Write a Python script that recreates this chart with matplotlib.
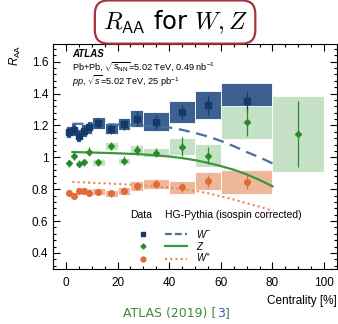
import numpy as np
import matplotlib
matplotlib.use("Agg")
import matplotlib.pyplot as plt
from matplotlib.lines import Line2D
from matplotlib.legend_handler import HandlerTuple
from matplotlib.ticker import MultipleLocator

plt.rcParams["font.family"] = ["Liberation Sans", "DejaVu Sans"]
plt.rcParams["mathtext.fontset"] = "custom"
plt.rcParams["mathtext.rm"] = "Liberation Sans"
plt.rcParams["mathtext.it"] = "Liberation Sans:italic"
plt.rcParams["mathtext.bf"] = "Liberation Sans:bold"

# centrality bins [%]
bin_lo = [0, 2, 4, 6, 8, 10, 15, 20, 25, 30, 40, 50, 60]
bin_hi = [2, 4, 6, 8, 10, 15, 20, 25, 30, 40, 50, 60, 80]
z_lo = bin_lo + [80]
z_hi = bin_hi + [100]

# W- data
wm_val = [1.158, 1.173, 1.135, 1.166, 1.187, 1.215, 1.179, 1.208, 1.242, 1.223, 1.284, 1.330, 1.352]
wm_stat = [0.028, 0.028, 0.030, 0.028, 0.030, 0.030, 0.030, 0.035, 0.047, 0.044, 0.047, 0.063, 0.065]
wm_sys = [0.040, 0.040, 0.040, 0.040, 0.040, 0.040, 0.035, 0.040, 0.055, 0.060, 0.066, 0.088, 0.115]

# Z data
z_val = [0.962, 1.008, 0.958, 0.968, 1.036, 0.968, 1.072, 0.977, 1.046, 1.029, 1.067, 1.011, 1.219, 1.146]
z_stat = [0.020, 0.022, 0.022, 0.022, 0.027, 0.020, 0.026, 0.028, 0.030, 0.030, 0.058, 0.056, 0.086, 0.205]
z_sys = [0.0, 0.0, 0.0, 0.0, 0.0, 0.020, 0.025, 0.020, 0.030, 0.030, 0.053, 0.075, 0.105, 0.238]

# W+ data
wp_val = [0.779, 0.758, 0.790, 0.790, 0.779, 0.783, 0.773, 0.790, 0.821, 0.832, 0.811, 0.851, 0.846]
wp_stat = [0.018, 0.018, 0.018, 0.018, 0.020, 0.018, 0.020, 0.022, 0.025, 0.025, 0.030, 0.040, 0.045]
wp_sys = [0.022, 0.022, 0.022, 0.022, 0.022, 0.022, 0.025, 0.025, 0.030, 0.030, 0.040, 0.057, 0.075]

# HG-Pythia curves
th_x = [2.5, 10, 20, 30, 40, 45, 50, 55, 60, 65, 70, 75, 80]
th_wm = [1.210, 1.210, 1.205, 1.200, 1.187, 1.172, 1.153, 1.130, 1.103, 1.070, 1.033, 1.000, 0.962]
th_z = [1.033, 1.030, 1.025, 1.018, 1.005, 0.995, 0.982, 0.965, 0.945, 0.922, 0.893, 0.858, 0.818]
th_wp = [0.845, 0.840, 0.833, 0.824, 0.810, 0.800, 0.790, 0.775, 0.755, 0.735, 0.712, 0.690, 0.665]

c_wm_box, c_wm = "#3d6090", "#143a6c"
c_z_box, c_z = "#c6e2c6", "#2a8a2a"
c_wp_box, c_wp = "#eeb79a", "#e06a3a"

fig = plt.figure(figsize=(3.38, 3.24), dpi=100)
ax = fig.add_axes([0.157, 0.170, 0.840, 0.694])


def draw_boxes(lo, hi, val, sys, color):
    lo, hi, val, sys = map(np.asarray, (lo, hi, val, sys))
    ax.bar((lo + hi) / 2, 2 * sys, bottom=val - sys, width=hi - lo,
           color=color, edgecolor="white", linewidth=0.6, zorder=1)


draw_boxes(bin_lo, bin_hi, wp_val, wp_sys, c_wp_box)
draw_boxes(bin_lo, bin_hi, wm_val, wm_sys, c_wm_box)
draw_boxes(z_lo, z_hi, z_val, z_sys, c_z_box)

ax.plot(th_x, th_wm, ls=(0, (5, 3)), color="#4a6f9c", lw=1.6, zorder=2)
ax.plot(th_x, th_z, ls="-", color="#3c963c", lw=1.6, zorder=2)
ax.plot(th_x, th_wp, ls=(0, (1, 1.5)), color="#e8865a", lw=1.5, zorder=2)

ctr = (np.array(bin_lo) + np.array(bin_hi)) / 2
zctr = (np.array(z_lo) + np.array(z_hi)) / 2
ax.errorbar(ctr, wm_val, yerr=wm_stat, fmt="s", ms=4, color=c_wm, elinewidth=0.9, capsize=0, zorder=3)
ax.errorbar(zctr, z_val, yerr=z_stat, fmt="D", ms=3, color=c_z, elinewidth=0.9, capsize=0, zorder=3)
ax.errorbar(ctr, wp_val, yerr=wp_stat, fmt="o", ms=4, color=c_wp, elinewidth=0.9, capsize=0, zorder=3)

ax.set_xlim(-5, 105)
ax.set_ylim(0.3, 1.71)
ax.xaxis.set_major_locator(MultipleLocator(20))
ax.xaxis.set_minor_locator(MultipleLocator(5))
ax.yaxis.set_major_locator(MultipleLocator(0.2))
ax.yaxis.set_minor_locator(MultipleLocator(0.04))
ax.set_yticks([0.4, 0.6, 0.8, 1.0, 1.2, 1.4, 1.6], ["0.4", "0.6", "0.8", "1", "1.2", "1.4", "1.6"])
ax.tick_params(which="both", direction="in", top=True, right=True, labelsize=8.5, width=0.8)
ax.tick_params(which="major", length=5)
ax.tick_params(which="minor", length=2.5)
ax.tick_params(axis="x", pad=6)

ax.set_xlabel("Centrality [%]", loc="right", fontsize=8.5)
ax.set_ylabel(r"$R_{\mathrm{AA}}$", loc="top", fontsize=8.5, labelpad=6)

ax.text(0.066, 0.955, "ATLAS", transform=ax.transAxes, fontsize=7, fontweight="bold",
        fontstyle="italic", va="center")
ax.text(0.066, 0.897, r"Pb+Pb, $\sqrt{s_{\mathrm{NN}}}$=5.02 TeV, 0.49 nb$^{\mathrm{-1}}$",
        transform=ax.transAxes, fontsize=6.6, va="center")
ax.text(0.066, 0.834, r"$pp$, $\sqrt{s}$=5.02 TeV, 25 pb$^{\mathrm{-1}}$",
        transform=ax.transAxes, fontsize=6.6, va="center")

# legend
ax.text(29, 0.64, "Data", fontsize=7.5, ha="center", va="center")
ax.text(38.5, 0.64, "HG-Pythia (isospin corrected)", fontsize=7.5, ha="left", va="center")
h_wm = (Line2D([], [], marker="s", ms=3.5, ls="none", color=c_wm),
        Line2D([], [], ls=(0, (3, 1.5)), color="#4a6f9c", lw=1.6))
h_z = (Line2D([], [], marker="D", ms=2.5, ls="none", color=c_z),
       Line2D([], [], ls="-", color="#3c963c", lw=1.6))
h_wp = (Line2D([], [], marker="o", ms=3.5, ls="none", color=c_wp),
        Line2D([], [], ls=(0, (1, 1.5)), color="#e8865a", lw=1.5))
ax.legend([h_wm, h_z, h_wp], [r"$W^{-}$", r"$Z$", r"$W^{+}$"],
          handler_map={tuple: HandlerTuple(ndivide=None, pad=1.1)},
          loc="upper left", bbox_to_anchor=(0.265, 0.2), frameon=False, fontsize=7,
          handlelength=5.6, handletextpad=1.0, labelspacing=0.0, borderaxespad=0)

fig.text(0.518, 0.932, r"$R_{\mathsf{AA}}$ for $W, Z$", fontsize=17.5, ha="center", va="center",
         family="DejaVu Sans", math_fontfamily="cm",
         bbox=dict(boxstyle="round,pad=0.32,rounding_size=0.55", fc="white", ec="#a8323e", lw=1.6))

green = "#3d8b3d"
t1 = fig.text(0.365, 0.022, "ATLAS (2019) [", color=green, fontsize=9, family="DejaVu Sans")
t2 = ax.annotate("3", xy=(1, 0), xycoords=t1, color="#3a55c8", fontsize=9,
                 family="DejaVu Sans", va="bottom", annotation_clip=False)
ax.annotate("]", xy=(1, 0), xycoords=t2, color=green, fontsize=9,
            family="DejaVu Sans", va="bottom", annotation_clip=False)

fig.savefig("out.png", dpi=100)
